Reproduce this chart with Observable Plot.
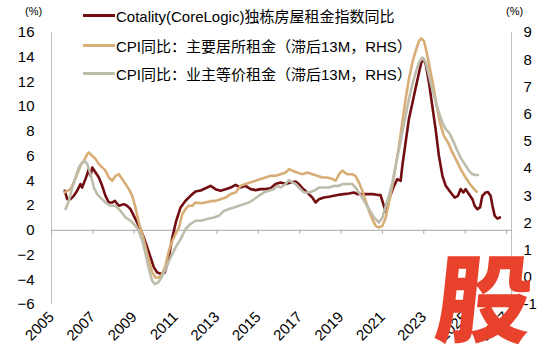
<!DOCTYPE html>
<html><head><meta charset="utf-8">
<script src="https://cdn.jsdelivr.net/npm/d3@7"></script>
<script src="https://cdn.jsdelivr.net/npm/@observablehq/plot@0.6"></script>
<style>
body{margin:0;background:#fff;}
#wrap{position:relative;width:550px;height:354px;font-family:"Liberation Sans",Arial,"Noto Sans CJK SC",sans-serif;color:#000;}
.leg{position:absolute;left:83px;display:flex;align-items:center;font-size:15px;white-space:nowrap;height:20px;}
.leg i{display:inline-block;width:32px;height:3px;margin-right:1px;}
.unit{position:absolute;font-size:11px;top:5px;}
#wm{position:absolute;left:437px;top:246px;font-family:"Noto Sans CJK SC";font-weight:900;font-size:96px;line-height:1;color:#E8412C;transform:skewX(-6deg);}
</style></head>
<body><div id="wrap"></div>
<script>
// Cotality(CoreLogic) single-family rent index YoY (left axis, %)
const cotalityT = [2005.64,2005.76,2005.92,2006.08,2006.24,2006.40,2006.48,2006.64,2006.73,2006.80,
2006.89,2006.97,2007.13,2007.29,2007.45,2007.61,2007.77,2007.94,2008.06,2008.26,
2008.50,2008.66,2008.82,2009.06,2009.30,2009.46,2009.63,2009.79,2009.95,2010.11,
2010.32,2010.48,2010.64,2010.84,2011.03,2011.24,2011.48,2011.72,2011.96,2012.21,
2012.45,2012.69,2012.93,2013.17,2013.42,2013.66,2013.90,2014.14,2014.38,2014.63,
2014.87,2015.11,2015.35,2015.59,2015.83,2016.08,2016.32,2016.56,2016.80,2016.96,
2017.13,2017.37,2017.61,2017.77,2017.93,2018.17,2018.41,2018.65,2018.90,2019.14,
2019.38,2019.62,2019.79,2020.03,2020.27,2020.51,2020.75,2020.91,2021.07,2021.16,
2021.32,2021.56,2021.72,2021.88,2021.96,2022.12,2022.28,2022.45,2022.61,2022.77,
2022.88,2022.98,2023.09,2023.25,2023.41,2023.57,2023.73,2023.90,2024.06,2024.30,
2024.49,2024.65,2024.78,2024.91,2025.02,2025.18,2025.35,2025.46,2025.59,2025.72,
2025.83,2025.99,2026.10,2026.23,2026.32,2026.43,2026.56,2026.68];
const cotalityV = [3.2,2.52,2.52,2.79,3.2,3.74,3.46,4.14,4.55,4.95,
4.41,5.08,4.68,4.27,3.6,2.79,2.25,2.25,2.39,1.98,
2.12,1.98,1.71,0.9,0.1,-0.58,-1.39,-2.2,-3.0,-3.41,
-3.54,-3.41,-2.47,-0.58,0.77,1.85,2.39,2.79,3.14,3.22,
3.4,3.6,3.33,3.2,3.33,3.46,3.68,3.46,3.6,3.33,
3.25,3.33,3.33,3.41,3.74,3.87,3.74,3.87,3.95,3.74,
3.41,3.06,2.65,2.25,2.52,2.65,2.71,2.79,2.87,2.93,
2.98,3.06,2.93,2.93,2.93,2.93,2.87,2.85,1.98,1.5,
2.52,3.6,4.14,4.0,5.2,7.1,9.0,10.3,11.55,12.77,
13.58,13.85,13.45,11.96,10.07,8.19,6.03,4.41,3.6,3.06,
2.65,2.79,3.33,3.06,3.33,2.93,2.52,1.98,1.71,1.85,
2.79,3.06,3.1,2.79,1.98,1.17,0.95,1.04];

// CPI YoY: rent of primary residence (lagged 13M, right axis, %)
const rentT = [2005.64,2005.76,2005.92,2006.08,2006.24,2006.40,2006.56,2006.73,2006.80,2006.97,
2007.13,2007.29,2007.45,2007.61,2007.77,2007.94,2008.10,2008.26,2008.42,2008.58,
2008.74,2008.90,2009.06,2009.22,2009.39,2009.55,2009.71,2009.87,2010.03,2010.19,
2010.35,2010.51,2010.67,2010.84,2011.00,2011.16,2011.32,2011.48,2011.64,2011.81,
2011.96,2012.21,2012.45,2012.69,2012.93,2013.17,2013.42,2013.66,2013.90,2014.14,
2014.38,2014.63,2014.87,2015.11,2015.35,2015.59,2015.83,2016.08,2016.32,2016.48,
2016.64,2016.88,2017.13,2017.37,2017.61,2017.85,2018.09,2018.33,2018.58,2018.74,
2018.90,2019.06,2019.30,2019.54,2019.70,2019.86,2020.03,2020.19,2020.35,2020.51,
2020.67,2020.83,2021.00,2021.16,2021.32,2021.48,2021.64,2021.80,2021.96,2022.12,
2022.28,2022.45,2022.61,2022.77,2022.88,2023.01,2023.14,2023.30,2023.46,2023.62,
2023.78,2023.97,2024.17,2024.38,2024.59,2024.78,2025.02,2025.23,2025.43,2025.56];
const rentV = [3.12,3.18,3.24,3.49,3.79,4.1,4.28,4.53,4.59,4.47,
4.35,4.16,4.04,3.92,3.67,3.55,3.73,3.79,3.61,3.43,
3.24,3.0,2.57,2.01,1.59,1.1,0.61,0.18,-0.01,-0.01,
0.12,0.42,0.97,1.34,1.59,1.83,2.32,2.51,2.63,2.63,
2.75,2.72,2.75,2.8,2.81,2.87,2.93,3.06,3.12,3.36,
3.43,3.49,3.55,3.61,3.67,3.73,3.73,3.79,3.85,3.98,
3.92,3.85,3.79,3.85,3.79,3.73,3.67,3.67,3.61,3.55,
3.79,3.92,3.79,3.79,3.73,3.49,3.18,2.81,2.44,2.14,
1.89,1.83,1.89,2.2,2.75,3.36,4.1,4.83,5.69,6.55,
7.29,7.9,8.33,8.69,8.78,8.69,8.26,7.65,7.04,6.31,
5.69,5.2,4.96,4.59,4.28,3.98,3.67,3.43,3.24,3.15];

// CPI YoY: owners' equivalent rent (lagged 13M, right axis, %)
const oerT = [2005.68,2005.84,2006.00,2006.16,2006.32,2006.48,2006.61,2006.73,2006.89,2007.05,
2007.21,2007.37,2007.61,2007.85,2008.10,2008.34,2008.58,2008.82,2009.06,2009.22,
2009.39,2009.55,2009.71,2009.87,2010.00,2010.16,2010.32,2010.51,2010.76,2011.00,
2011.24,2011.48,2011.72,2011.96,2012.21,2012.53,2012.85,2013.09,2013.33,2013.58,
2013.82,2014.06,2014.30,2014.54,2014.79,2015.03,2015.27,2015.51,2015.75,2015.92,
2016.08,2016.32,2016.48,2016.64,2016.80,2016.96,2017.20,2017.45,2017.69,2017.93,
2018.17,2018.41,2018.65,2018.90,2019.06,2019.30,2019.54,2019.70,2019.86,2020.11,
2020.35,2020.59,2020.75,2020.83,2021.00,2021.16,2021.32,2021.48,2021.64,2021.80,
2021.96,2022.12,2022.28,2022.45,2022.61,2022.77,2022.93,2023.09,2023.25,2023.41,
2023.57,2023.73,2023.90,2024.06,2024.22,2024.38,2024.59,2024.78,2024.98,2025.18,
2025.35,2025.51,2025.62];
const oerV = [2.51,2.81,3.3,3.67,4.04,4.22,4.28,4.16,3.79,3.3,
3.06,2.93,2.75,2.63,2.63,2.44,2.2,2.08,1.89,1.71,
1.34,0.85,0.3,-0.13,-0.25,-0.19,-0.01,0.3,0.73,1.1,
1.4,1.77,1.96,2.08,2.08,2.14,2.2,2.26,2.44,2.51,
2.57,2.63,2.69,2.75,2.87,3.0,3.12,3.18,3.24,3.36,
3.3,3.43,3.57,3.49,3.43,3.3,3.12,3.12,3.18,3.3,
3.3,3.3,3.36,3.36,3.43,3.43,3.43,3.3,3.12,2.81,
2.51,2.2,2.08,2.01,2.2,2.63,3.0,3.49,4.1,4.71,
5.32,5.94,6.55,7.1,7.53,7.9,8.08,7.9,7.41,6.92,
6.49,6.06,5.69,5.45,5.32,5.08,4.71,4.4,4.16,3.92,
3.79,3.76,3.76];

const seriesNames = ["Cotality(CoreLogic)独栋房屋租金指数同比", "CPI同比：主要居所租金（滞后13M，RHS）", "CPI同比：业主等价租金（滞后13M，RHS）"];
const seriesColors = ["#720E12", "#D8AD76", "#BEBDAB"];
const xDomain = [2005, 2027.24];
const xTicks = [2005,2007,2009,2011,2013,2015,2017,2019,2021,2023,2025,2027];
const leftDomain = [-6, 16];
const leftTicks = [-6,-4,-2,0,2,4,6,8,10,12,14,16];
const rightDomain = [-1, 9];
const rightTicks = [-1,0,1,2,3,4,5,6,7,8,9];

const toLeft = d3.scaleLinear(rightDomain, leftDomain);
const fromLeft = toLeft.copy().domain(leftDomain).range(rightDomain);

const cotality = cotalityT.map((t, i) => ({t, v: cotalityV[i]}));
const rent = rentT.map((t, i) => ({t, v: toLeft(rentV[i])}));
const oer = oerT.map((t, i) => ({t, v: toLeft(oerV[i])}));

const axisColor = "#BFBFBF";
const chart = Plot.plot({
  width: 550, height: 354,
  marginLeft: 51, marginRight: 39, marginTop: 32, marginBottom: 50,
  style: {fontFamily: '"Liberation Sans", Arial, sans-serif', background: "#fff", color: "#000"},
  x: {domain: xDomain},
  y: {domain: leftDomain},
  marks: [
    Plot.ruleX([xDomain[0], xDomain[1]], {stroke: axisColor, strokeWidth: 1}),
    Plot.ruleY([0], {stroke: "#A6A6A6", strokeWidth: 1}),
    Plot.ruleX(xTicks, {y1: 0, y2: -0.32, stroke: "#A6A6A6"}),
    Plot.axisY(leftTicks, {anchor: "left", tickSize: 0, tickPadding: 17, fontSize: 15, label: null}),
    Plot.axisY(rightTicks.map(toLeft), {anchor: "right", tickSize: 0, tickPadding: 12, fontSize: 15, label: null,
      tickFormat: d => String(Math.round(fromLeft(d)))}),
    Plot.axisX(xTicks, {anchor: "bottom", tickSize: 0, tickPadding: 10, tickRotate: -45, fontSize: 15, label: null,
      tickFormat: d => String(d)}),
    Plot.line(cotality, {x: "t", y: "v", stroke: seriesColors[0], strokeWidth: 2.6}),
    Plot.line(rent, {x: "t", y: "v", stroke: seriesColors[1], strokeWidth: 2.6}),
    Plot.line(oer, {x: "t", y: "v", stroke: seriesColors[2], strokeWidth: 2.6})
  ]
});

const wrap = document.getElementById("wrap");
wrap.appendChild(chart);
const legendTops = [5, 35, 63];
seriesNames.forEach((name, i) => {
  const row = document.createElement("div");
  row.className = "leg";
  row.style.top = legendTops[i] + "px";
  const sw = document.createElement("i");
  sw.style.background = seriesColors[i];
  row.appendChild(sw);
  row.appendChild(document.createTextNode(name));
  wrap.appendChild(row);
});
const u1 = document.createElement("div"); u1.className = "unit"; u1.style.left = "25px"; u1.textContent = "(%)"; wrap.appendChild(u1);
const u2 = document.createElement("div"); u2.className = "unit"; u2.style.left = "506px"; u2.textContent = "(%)"; wrap.appendChild(u2);
const wm = document.createElement("div"); wm.id = "wm"; wm.textContent = "股"; wrap.appendChild(wm);
</script></body></html>
